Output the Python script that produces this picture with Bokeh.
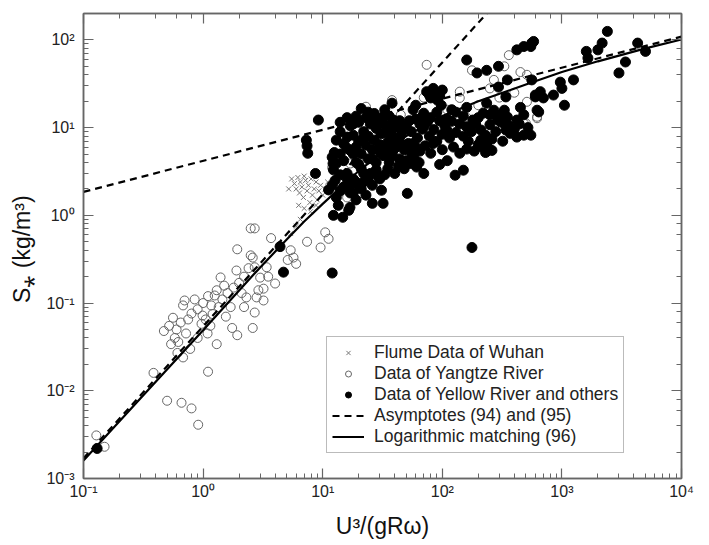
from bokeh.plotting import figure
from bokeh.models import LogAxis, CustomJSTickFormatter, Legend, LegendItem, Range1d
from bokeh.embed import file_html
from bokeh.resources import INLINE

# ---------------- data ----------------
flume_x = [5.5, 5.8, 6.0, 6.2, 6.4, 6.5, 6.7, 6.9, 7.0, 7.2, 7.4, 7.6, 7.8, 8.0, 8.2, 8.5,
           8.8, 9.0, 9.3, 9.6, 10.0, 10.5, 6.3, 7.0, 7.9, 6.5, 5.4, 6.0, 8.8, 11.0, 12.0, 5.2]
flume_y = [2.6, 2.3, 2.0, 2.7, 1.8, 2.4, 2.1, 1.6, 2.8, 2.5, 1.9, 2.2, 1.4, 2.6, 1.7, 2.0,
           2.4, 1.5, 1.9, 2.2, 1.7, 2.0, 1.3, 1.2, 1.1, 0.9, 0.62, 0.75, 1.3, 2.4, 2.1, 2.0]

yangtze_x = [0.128, 0.15, 0.385, 0.5, 0.66, 0.8, 0.91, 1.1,
             0.47, 0.56, 0.70, 0.85, 0.68, 0.54, 0.61, 0.68, 0.58, 0.8, 0.99, 0.97, 1.09, 1.3,
             1.17, 1.4, 1.5, 1.25, 1.75, 1.93, 1.9, 1.93, 2.5, 2.5, 2.6, 2.3,
             0.52, 0.6, 0.65, 0.72, 0.75, 0.62, 0.9, 1.0, 1.05, 1.15, 1.2, 1.35, 1.45, 1.6,
             1.7, 1.8, 2.0, 2.1, 2.2, 1.55, 1.3, 2.4, 2.2, 0.78, 0.9, 1.1,
             2.7, 3.7, 5.4, 5.7, 6.0, 5.1, 7.4, 9.6, 10.5, 11.2, 4.0, 3.2, 2.8, 2.7, 3.2,
             2.6, 2.7, 3.4, 3.0, 2.9, 3.5,
             74, 360, 450, 510, 270, 140, 140, 177, 38, 510, 620, 480, 91, 47, 39, 32,
             23, 33, 17, 23, 26, 330, 620, 500,
             12, 14, 16, 20, 28, 45, 60, 70, 110, 160, 200, 250, 300, 400, 30, 18]
yangtze_y = [0.0031, 0.0023, 0.016, 0.0077, 0.0073, 0.0063, 0.0041, 0.0165,
             0.048, 0.068, 0.107, 0.11, 0.094, 0.034, 0.027, 0.024, 0.040, 0.076, 0.072, 0.058,
             0.045, 0.034, 0.094, 0.196, 0.158, 0.122, 0.052, 0.043, 0.235, 0.41, 0.71, 0.35,
             0.052, 0.116,
             0.055, 0.05, 0.06, 0.045, 0.065, 0.036, 0.085, 0.1, 0.065, 0.055, 0.075, 0.09,
             0.11, 0.13, 0.09, 0.15, 0.17, 0.13, 0.2, 0.07, 0.14, 0.25, 0.09, 0.03, 0.04, 0.12,
             0.71, 0.55, 0.40, 0.33, 0.28, 0.31, 0.50, 0.43, 0.64, 0.54, 0.167, 0.146, 0.116,
             0.078, 0.107, 0.33, 0.256, 0.256, 0.195, 0.14, 0.2,
             52, 67, 43, 40, 35, 25.7, 21.8, 45, 20.6, 19.7, 13.3, 11.2, 9.4, 6.0, 4.9, 11.2,
             17.3, 11.2, 3.9, 5.5, 3.0, 50, 12.8, 11.2,
             3.5, 2.4, 1.6, 4.5, 6.5, 14, 9, 22, 16, 13, 18, 28, 22, 25, 9, 7]

yellow_x = [0.13, 4.4, 4.7, 12, 177,
            7.3, 7.4, 7.5, 9.2, 8.7, 12, 12.2, 12.3,
            12, 11.2, 12.7, 13.5, 12.3, 14.7, 16.5, 16.9, 19, 23, 26, 32, 31, 51, 15, 17, 128, 150,
            14, 15, 15, 16, 16, 17, 17, 18, 18, 19, 19, 20, 20, 21, 21, 22, 22, 23, 23, 24, 24,
            25, 25, 26, 27, 27, 28, 28, 29, 30, 30, 31, 32, 33, 34, 35, 35, 36, 38, 38, 40, 42,
            43, 44, 46, 48, 50, 52, 55, 58, 60, 62, 65, 68, 72, 75, 78, 85, 90, 95, 100, 105,
            115, 120, 130, 13, 12.5, 13, 14, 15, 18, 20,
            160, 195, 235, 295, 350, 420, 480, 560, 600, 38, 60, 57, 70,
            74, 84, 100, 91, 80, 98, 88, 78, 95,
            68, 70, 47, 39, 32, 35, 30.5, 37, 45, 57, 54, 61, 70, 80, 84, 109, 124, 140, 140,
            160, 180, 210, 220, 235, 270, 290, 330, 340, 370, 420, 480, 550, 210, 235, 215,
            420, 350, 450, 340, 295, 620,
            150, 165, 175, 190, 200, 230, 250, 260, 280, 310, 320, 360, 400, 440, 480, 520,
            300, 250, 200, 150, 130, 110, 160, 185, 230, 260, 160,
            2400, 2170, 2000, 1600, 1650, 4300, 5000, 3400, 3000, 1250, 970, 1000, 850, 660,
            700, 600, 1050, 640, 580, 550, 560,
            19, 21, 24, 26,
            13, 14, 16, 17, 19, 21, 22, 24, 26, 28, 30, 33, 36, 40, 44, 48, 50, 55, 60, 64,
            40, 34, 26, 20, 18, 16, 14, 14, 16, 18, 22, 29, 31, 44, 53, 65, 80, 90, 120, 100,
            110, 95]
yellow_y = [0.0022, 0.44, 0.225, 0.22, 0.43,
            7.2, 6.2, 5.1, 12.2, 3.0, 4.6, 3.9, 3.3,
            2.2, 1.95, 2.5, 1.3, 1.0, 0.95, 1.14, 1.23, 1.5, 1.7, 1.37, 1.37, 1.93, 1.78, 2.1,
            2.2, 2.87, 3.27,
            9.0, 6.5, 4.2, 7.8, 3.0, 10.5, 5.5, 8.2, 2.6, 6.0, 4.0, 11.5, 7.0, 3.4, 5.0, 9.0,
            2.4, 13.0, 6.3, 4.4, 8.0, 3.0, 11.0, 5.6, 7.2, 14.5, 4.0, 9.8, 2.8, 6.4, 12.5, 8.5,
            4.8, 16.0, 10.5, 3.4, 6.8, 13.5, 8.0, 5.0, 10.0, 7.0, 3.6, 12.0, 8.8, 5.6, 10.5,
            6.6, 9.0, 4.6, 12.5, 7.6, 5.4, 9.6, 6.2, 11.5, 8.0, 9.5, 7.0, 12.0, 8.4, 10.5, 7.6,
            11.8, 8.8, 7.2, 5.2, 3.9, 2.9, 2.1, 1.8, 2.2,
            59, 42, 45, 50, 35, 77, 84, 92, 23.5, 19, 18, 16, 14.6,
            25.7, 28, 26.8, 20.6, 21.8, 18, 24, 23.5, 23,
            13.3, 10.2, 9.9, 12.2, 13.2, 8.6, 5.1, 4.6, 6.6, 6.6, 3.9, 3.55, 3.0, 5.1, 6.6, 9.4,
            6.0, 5.1, 11, 10.2, 12.2, 9.4, 14.6, 19, 15.8, 12.2, 15.8, 9.4, 8.6, 7.8, 8.2, 8.2,
            7.2, 6.6, 6.0, 12.2, 13.2, 17, 22.4, 29, 15.8,
            8.0, 7.0, 9.0, 11.0, 6.4, 8.2, 10.8, 7.4, 9.0, 11.5, 7.0, 10.5, 9.6, 11.0, 14.0,
            10.0, 13.8, 14.0, 13.0, 13.5, 15.0, 12.5, 17.0, 5.4, 5.2, 5.5, 5.7,
            125, 92, 77, 74, 62, 92, 74, 56, 42, 35, 33, 28, 23.5, 25.7, 21.8, 22.4, 18, 15.1,
            96, 84, 35,
            13.5, 16.5, 15, 12.5,
            1.6, 1.9, 2.6, 1.8, 2.4, 2.0, 3.0, 2.6, 2.2, 3.3, 2.6, 2.9, 4.0, 3.0, 4.4, 3.4,
            4.2, 5.2, 6.0, 4.0, 5.8, 5.6, 4.4, 3.8, 5.0, 5.8, 5.0, 11.5, 13.0, 11.0, 7.6, 11.0,
            6.0, 7.8, 12.0, 11.0, 13.0, 15.0, 16.0, 5.6, 4.2, 3.8]

# asymptotes (94) and (95): end points of the two straight dashed lines
asym1_x = [0.1, 235]
asym1_y = [0.0017, 200]
asym2_x = [0.1, 10000]
asym2_y = [1.85, 109]

# logarithmic matching (96)
match_x = [0.1, 0.3, 1, 3, 5, 7, 10, 15, 20, 30, 50, 100, 200, 500, 1000, 2000, 5000, 10000]
match_y = [0.0016, 0.0082, 0.049, 0.255, 0.53, 0.85, 1.35, 2.25, 3.2, 5.0, 8.0, 13.6, 20,
           31, 43, 57, 80, 101]

# ---------------- figure ----------------
FONT = "Liberation Sans"
AX = "#666666"
NAN = float("nan")

p = figure(x_axis_type="log", y_axis_type="log",
           x_range=Range1d(0.1, 10000), y_range=Range1d(0.001, 200),
           frame_width=598, frame_height=465,
           min_border_left=83, min_border_right=20, min_border_top=13, min_border_bottom=62,
           output_backend="svg", toolbar_location=None,
           x_axis_label="U³/(gRω)", y_axis_label="S⁎  (kg/m³)")
p.xgrid.visible = False
p.ygrid.visible = False
p.outline_line_color = AX
p.outline_line_width = 1.5
p.background_fill_color = "white"
p.border_fill_color = "white"

fmt_code = """
const sup = {'-':'\u207b','0':'\u2070','1':'\u00b9','2':'\u00b2','3':'\u00b3','4':'\u2074',
             '5':'\u2075','6':'\u2076','7':'\u2077','8':'\u2078','9':'\u2079'};
const e = Math.round(Math.log10(tick));
return '10' + String(e).split('').map(c => sup[c]).join('');
"""

def style(ax, labels=True):
    ax.axis_line_color = AX
    ax.axis_line_width = 1.5
    ax.major_tick_line_color = AX
    ax.minor_tick_line_color = AX
    ax.major_tick_in = 10
    ax.major_tick_out = 0
    ax.minor_tick_in = 5
    ax.minor_tick_out = 0
    ax.major_tick_line_width = 1.2
    ax.minor_tick_line_width = 1
    ax.major_label_text_font = FONT
    ax.major_label_text_font_size = "16px"
    ax.major_label_text_color = "#222222"
    ax.axis_label_text_font = FONT
    ax.axis_label_text_font_size = "23px"
    ax.axis_label_text_font_style = "normal"
    ax.axis_label_text_color = "#111111"
    ax.formatter = CustomJSTickFormatter(code=fmt_code)
    if not labels:
        ax.major_label_text_alpha = 0
        ax.major_label_text_font_size = "1px"

for ax in p.xaxis:
    style(ax)
    ax.major_label_standoff = 4
    ax.axis_label_standoff = 10
for ax in p.yaxis:
    style(ax)
    ax.major_label_standoff = 9
    ax.axis_label_standoff = 8

top = LogAxis()
style(top, labels=False)
p.add_layout(top, "above")
right = LogAxis()
style(right, labels=False)
p.add_layout(right, "right")

r_flume = p.scatter(flume_x, flume_y, marker="x", size=7, line_color="#777777", line_width=1)
r_yz = p.scatter(yangtze_x, yangtze_y, marker="circle", size=9, fill_color=None,
                 line_color="#666666", line_width=1)
r_yr = p.scatter(yellow_x, yellow_y, marker="circle", size=10, fill_color="black",
                 line_color="black")
r_a1 = p.line(asym1_x, asym1_y, line_color="black", line_width=2.2, line_dash="7 5")
r_a2 = p.line(asym2_x, asym2_y, line_color="black", line_width=2.2, line_dash="7 5")
r_m = p.line(match_x, match_y, line_color="black", line_width=2.2)

# small legend-only markers (a single hidden NaN point each)
l_flume = p.scatter([NAN], [NAN], marker="x", size=6, line_color="#777777", line_width=1)
l_yz = p.scatter([NAN], [NAN], marker="circle", size=6, fill_color=None, line_color="#666666")
l_yr = p.scatter([NAN], [NAN], marker="circle", size=5, fill_color="black", line_color="black")

legend = Legend(items=[
    LegendItem(label="Flume Data of Wuhan", renderers=[l_flume], index=0),
    LegendItem(label="Data of Yangtze River", renderers=[l_yz], index=0),
    LegendItem(label="Data of Yellow River and others", renderers=[l_yr], index=0),
    LegendItem(label="Asymptotes (94) and (95)", renderers=[r_a1]),
    LegendItem(label="Logarithmic matching (96)", renderers=[r_m]),
], location=(243, 25))
legend.label_text_font = FONT
legend.label_text_font_size = "17.5px"
legend.label_text_line_height = 1.0
legend.label_text_color = "#222222"
legend.label_height = 20
legend.glyph_height = 15
legend.glyph_width = 32
legend.label_standoff = 10
legend.spacing = 0
legend.padding = 5
legend.margin = 0
legend.border_line_color = "#777777"
legend.border_line_width = 1.2
legend.background_fill_alpha = 1
p.add_layout(legend, "center")

open("out.html", "w").write(file_html(p, INLINE))
